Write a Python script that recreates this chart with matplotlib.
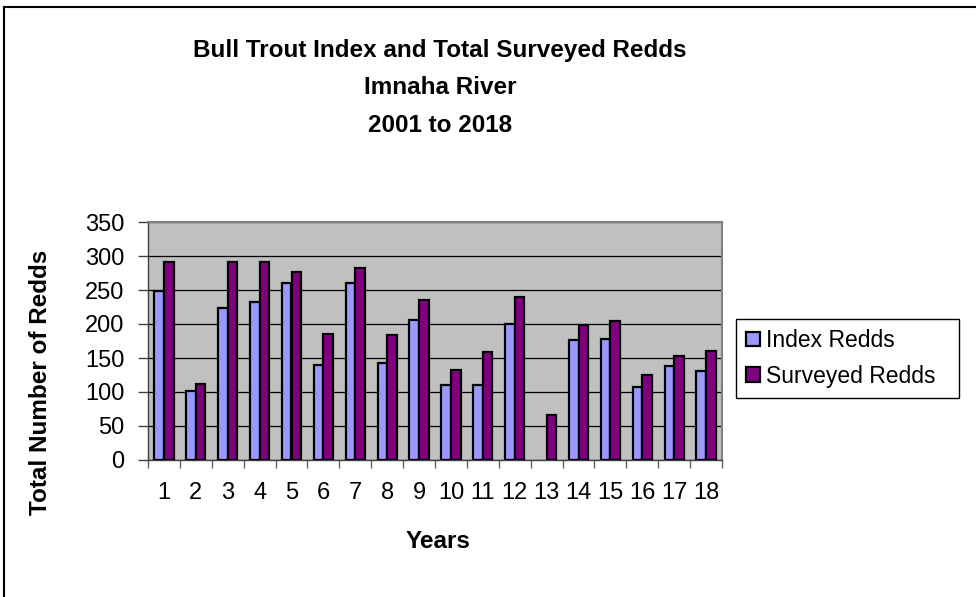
import matplotlib
matplotlib.use("Agg")
import matplotlib.pyplot as plt
from matplotlib.lines import Line2D
import numpy as np

# redd counts, years 2001..2018 shown as 1..18
years = list(range(1, 19))
index_redds = [248, 101, 223, 232, 261, 140, 261, 143, 206, 110, 111, 200, 0, 176, 178, 108, 138, 131]
surveyed_redds = [291, 112, 291, 291, 276, 185, 283, 184, 235, 132, 159, 240, 66, 198, 204, 125, 153, 160]
y_ticks = [0, 50, 100, 150, 200, 250, 300, 350]
title_lines = ["Bull Trout Index and Total Surveyed Redds", "Imnaha River", "2001 to 2018"]

plt.rcParams["font.family"] = ["Liberation Sans", "DejaVu Sans"]

W, H = 976, 597
fig = plt.figure(figsize=(W / 100, H / 100), dpi=100)
fig.patch.set_facecolor("white")


def px(x, y):
    # pixel coords (top-left origin) -> figure fraction
    return x / W, 1 - y / H


l, t = px(148, 222)
r, b = px(722, 460)
ax = fig.add_axes([l, b, r - l, t - b])
ax.set_facecolor("#C0C0C0")

x = np.array(years)
w = 0.3
# a zero count draws no bar at all (year 13 index)
idx = np.array(index_redds, dtype=float)
idx[idx == 0] = np.nan
ax.bar(x - w / 2, idx, w, color="#9999FF", edgecolor="black", linewidth=1.6,
       label="Index Redds", zorder=3)
ax.bar(x + w / 2, surveyed_redds, w, color="#800080", edgecolor="black", linewidth=1.6,
       label="Surveyed Redds", zorder=3)

ax.set_xlim(0.5, 18.5)
ax.set_ylim(0, 350)
ax.set_yticks(y_ticks)
ax.yaxis.grid(True, color="black", linewidth=0.9, zorder=1)
ax.set_axisbelow(True)

# labels at category centers, tick marks on the boundaries
ax.set_xticks(x)
ax.set_xticklabels([str(v) for v in years])
ax.set_xticks(np.arange(0.5, 19, 1), minor=True)
ax.tick_params(axis="x", which="major", length=0, pad=16, labelsize=17)
ax.tick_params(axis="x", which="minor", length=6, width=1, color="#606060")
ax.tick_params(axis="y", length=7, width=1, color="#404040", pad=10, labelsize=17)

for side in ["top", "right"]:
    ax.spines[side].set_color("#808080")
    ax.spines[side].set_linewidth(1.5)
for side in ["left", "bottom"]:
    ax.spines[side].set_color("#404040")
    ax.spines[side].set_linewidth(1)

# title, three centred lines
for line, yy in zip(title_lines, [51, 88, 125]):
    fig.text(*px(440, yy), line, ha="center", va="center", fontsize=17.5, fontweight="bold")

fig.text(*px(41, 382), "Total Number of Redds", rotation=90, ha="center", va="center",
         fontsize=17.5, fontweight="bold")
fig.text(*px(438, 542), "Years", ha="center", va="center", fontsize=17.5, fontweight="bold")

# legend box on the right
lx, ly = px(736, 398)
rx, ty = px(959, 313)
leg = fig.legend(loc="lower left", bbox_to_anchor=(lx, ly, rx - lx, ty - ly), mode="expand",
                 borderaxespad=0, fontsize=16.5, frameon=True, fancybox=False, framealpha=1,
                 edgecolor="black", handlelength=0.6, handleheight=0.6, handletextpad=0.25,
                 borderpad=0.45, labelspacing=0.55)
leg.get_frame().set_linewidth(1)

# outer border (left and top edges only visible)
fig.add_artist(Line2D([3.5 / W, 3.5 / W], [0, 1 - 6.5 / H], transform=fig.transFigure,
                      color="black", linewidth=1.5))
fig.add_artist(Line2D([3.5 / W, 1], [1 - 6.5 / H, 1 - 6.5 / H], transform=fig.transFigure,
                      color="black", linewidth=1.5))

fig.savefig("out.png", dpi=100)
